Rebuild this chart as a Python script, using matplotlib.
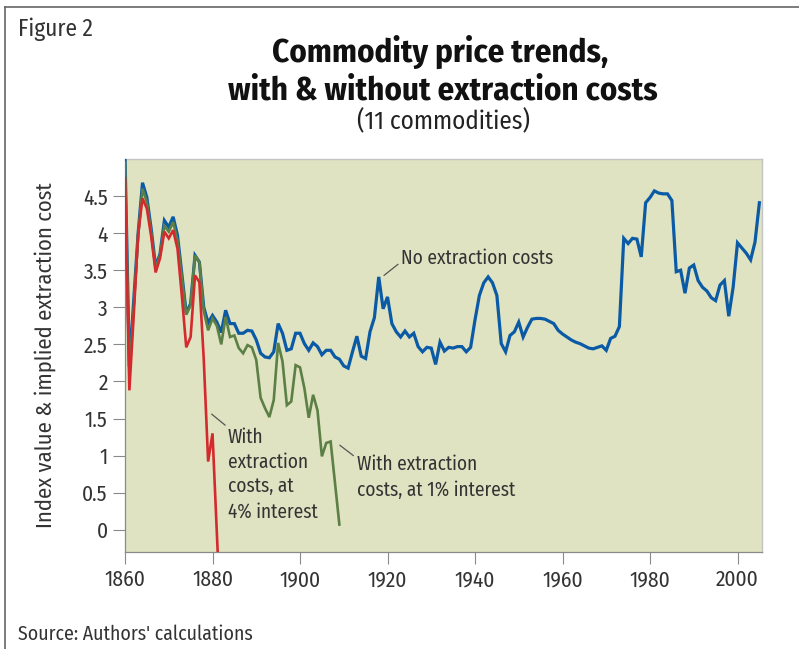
import matplotlib
matplotlib.use('Agg')
import matplotlib.pyplot as plt
from matplotlib.lines import Line2D
from matplotlib.ticker import FuncFormatter

FONT = ['Fira Sans Condensed', 'PT Sans Narrow', 'IBM Plex Sans Condensed', 'DejaVu Sans']
plt.rcParams['font.family'] = FONT

# ---------------- data ----------------
years_none = list(range(1860, 2006))
no_extraction = [
    5.05, 2.20, 3.10, 4.00, 4.68, 4.48, 4.05, 3.55, 3.72, 4.17,
    4.08, 4.22, 3.97, 3.45, 2.92, 3.05, 3.70, 3.61, 3.00, 2.79,
    2.89, 2.80, 2.66, 2.96, 2.78, 2.78, 2.65, 2.65, 2.69, 2.68,
    2.56, 2.38, 2.33, 2.32, 2.40, 2.78, 2.65, 2.42, 2.44, 2.65,
    2.65, 2.51, 2.42, 2.52, 2.47, 2.36, 2.42, 2.42, 2.33, 2.30,
    2.21, 2.18, 2.40, 2.61, 2.34, 2.31, 2.67, 2.86, 3.41, 2.98,
    3.14, 2.78, 2.67, 2.60, 2.68, 2.60, 2.65, 2.47, 2.40, 2.46,
    2.45, 2.23, 2.53, 2.41, 2.46, 2.45, 2.47, 2.47, 2.40, 2.46,
    2.83, 3.16, 3.33, 3.41, 3.33, 3.16, 2.51, 2.40, 2.62, 2.67,
    2.80, 2.60, 2.73, 2.84, 2.85, 2.85, 2.84, 2.81, 2.78, 2.69,
    2.64, 2.60, 2.56, 2.53, 2.51, 2.48, 2.45, 2.44, 2.46, 2.48,
    2.42, 2.58, 2.61, 2.74, 3.93, 3.86, 3.93, 3.92, 3.68, 4.41,
    4.48, 4.57, 4.54, 4.53, 4.53, 4.44, 3.48, 3.50, 3.19, 3.53,
    3.57, 3.36, 3.27, 3.22, 3.13, 3.09, 3.30, 3.36, 2.88, 3.27,
    3.87, 3.80, 3.73, 3.64, 3.88, 4.41,
]

years_1pct = list(range(1860, 1910))
cost_1pct = [
    4.95, 2.10, 3.00, 3.97, 4.60, 4.42, 4.00, 3.52, 3.70, 4.10,
    4.02, 4.15, 3.90, 3.40, 2.90, 3.03, 3.70, 3.61, 2.95, 2.69,
    2.85, 2.75, 2.50, 2.87, 2.60, 2.62, 2.45, 2.38, 2.49, 2.46,
    2.29, 1.78, 1.64, 1.52, 1.75, 2.52, 2.27, 1.68, 1.73, 2.22,
    2.19, 1.91, 1.51, 1.82, 1.61, 0.99, 1.17, 1.19, 0.63, 0.07,
]

years_4pct = list(range(1860, 1883))
cost_4pct = [
    4.74, 1.88, 2.90, 3.98, 4.47, 4.33, 3.95, 3.47, 3.66, 4.02,
    3.93, 4.04, 3.79, 3.15, 2.46, 2.60, 3.43, 3.34, 2.30, 0.92,
    1.30, -0.05, -1.40,
]

x_ticks = [1860, 1880, 1900, 1920, 1940, 1960, 1980, 2000]
y_ticks = [0, 0.5, 1, 1.5, 2, 2.5, 3, 3.5, 4, 4.5]

title_1 = "Commodity price trends,"
title_2 = "with & without extraction costs"
subtitle = "(11 commodities)"
fig_label = "Figure 2"
source = "Source: Authors' calculations"
y_label = "Index value & implied extraction cost"
label_none = "No extraction costs"
label_4pct = ["With", "extraction", "costs, at", "4% interest"]
label_1pct = ["With extraction", "costs, at 1% interest"]

# ---------------- styling ----------------
BLUE = '#0b5aa6'
GREEN = '#5c7f45'
RED = '#d42a2e'
BG = '#dfe3c1'
TXT = '#333333'

W, H = 799, 649
fig = plt.figure(figsize=(W / 100, H / 100), dpi=100)
fig.patch.set_facecolor('white')
renderer = fig.canvas.get_renderer()


def fx(px):
    return px / W


def fy(py):
    return 1 - py / H


def fit(t, target_px):
    """scale a text's font size so its rendered length matches target_px"""
    bb = t.get_window_extent(renderer)
    cur = max(bb.width, bb.height) if t.get_rotation() else bb.width
    t.set_fontsize(t.get_fontsize() * target_px / cur)
    return t.get_fontsize()


# size for tick labels, measured on a probe
probe = fig.text(0, 0, "1860", fontsize=16)
tick_size = fit(probe, 41)
probe.remove()

ax = fig.add_axes([fx(125), fy(552), (762 - 125) / W, (552 - 159) / H])
ax.set_facecolor(BG)

ax.plot(years_none, no_extraction, color=BLUE, lw=2.3, solid_joinstyle='miter', zorder=3)
ax.plot(years_1pct, cost_1pct, color=GREEN, lw=1.9, solid_joinstyle='miter', zorder=4)
ax.plot(years_4pct, cost_4pct, color=RED, lw=1.9, solid_joinstyle='miter', zorder=5)

ax.set_xlim(1860, 2005.6)
ax.set_ylim(-0.3, 5.0)
ax.set_xticks(x_ticks)
ax.set_yticks(y_ticks)
ax.yaxis.set_major_formatter(FuncFormatter(lambda v, p: f"{v:g}"))
ax.tick_params(axis='both', direction='out', length=8.5, width=0.8,
               color='#8a8a8a', labelcolor=TXT, labelsize=tick_size, pad=4)
for s in ['left', 'bottom']:
    ax.spines[s].set_color('#8a8a8a')
    ax.spines[s].set_linewidth(0.9)
for s in ['top', 'right']:
    ax.spines[s].set_color('#c4c4c4')
    ax.spines[s].set_linewidth(1.0)

# y label placed as figure text so its centre is exact
yl = fig.text(fx(45), fy(355), y_label, rotation=90, ha='center', va='center',
              fontsize=18, color=TXT)
fit(yl, 346)

# annotations
leader = dict(arrowstyle='-', color='#555555', lw=0.9, shrinkA=0, shrinkB=0)

t_none = ax.text(1923.1, (530 - 263.5) / 74.3, label_none, va='baseline', ha='left',
                 fontsize=15, color=TXT, clip_on=False)
ann_size = fit(t_none, 152)
ann_kw = dict(fontsize=ann_size, color=TXT, clip_on=False)
ax.annotate('', xy=(1919.2, 3.43), xytext=(1922.4, 3.58), arrowprops=leader)

ax.annotate('', xy=(1879.8, 1.56), xytext=(1882.9, 1.41), arrowprops=leader)
for i, t in enumerate(label_4pct):
    ax.text(1883.5, (530 - (443 + 24.8 * i)) / 74.3, t, va='baseline', ha='left', **ann_kw)

ax.annotate('', xy=(1909.1, 1.14), xytext=(1912.2, 1.00), arrowprops=leader)
for i, t in enumerate(label_1pct):
    ax.text(1913.0, (530 - (470.5 + 25.5 * i)) / 74.3, t, va='baseline', ha='left', **ann_kw)

# titles
t2 = fig.text(fx(442.5), fy(100), title_2, ha='center', va='baseline', fontsize=24,
              fontweight='bold', color='#111111')
title_size = fit(t2, 429)
fig.text(fx(440), fy(62), title_1, ha='center', va='baseline', fontsize=title_size,
         fontweight='bold', color='#111111')
st = fig.text(fx(443.5), fy(129), subtitle, ha='center', va='baseline', fontsize=18,
              color='#222222')
fit(st, 173)
fl = fig.text(fx(18), fy(36), fig_label, ha='left', va='baseline', fontsize=17, color=TXT)
fit(fl, 75)
so = fig.text(fx(18), fy(640), source, ha='left', va='baseline', fontsize=16, color=TXT)
fit(so, 235)

# frame lines of the figure box
fig.add_artist(Line2D([fx(5), fx(799)], [fy(7), fy(7)], color='#666666', lw=1.2))
fig.add_artist(Line2D([fx(5), fx(5)], [fy(7), fy(649)], color='#666666', lw=1.2))

fig.savefig('out.png', dpi=100, facecolor='white')
